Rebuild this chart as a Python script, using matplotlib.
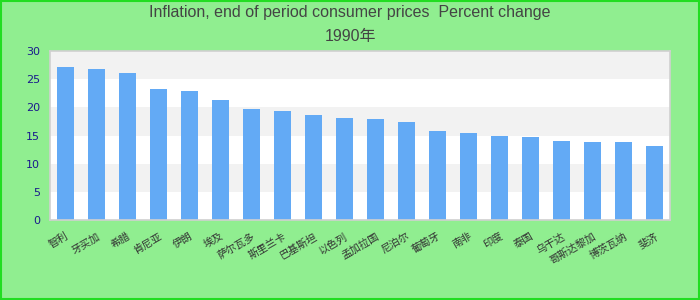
import numpy as np
import matplotlib
matplotlib.use("Agg")
import matplotlib.pyplot as plt
from matplotlib.patches import Rectangle

# Data
countries = ["智利", "牙买加", "希腊", "肯尼亚", "伊朗", "埃及", "萨尔瓦多", "斯里兰卡",
             "巴基斯坦", "以色列", "孟加拉国", "尼泊尔", "葡萄牙", "南非", "印度", "泰国",
             "乌干达", "哥斯达黎加", "博茨瓦纳", "斐济"]
inflation = [27.2, 26.8, 26.1, 23.3, 22.9, 21.3, 19.7, 19.4, 18.6, 18.1,
             17.9, 17.4, 15.8, 15.4, 14.9, 14.7, 14.0, 13.9, 13.9, 13.1]
y_ticks = [0, 5, 10, 15, 20, 25, 30]

title_line1 = "Inflation, end of period consumer prices  Percent change"
title_line2 = "1990年"

bg = "#90EE90"
bar_color = "#63AAF5"

fig = plt.figure(figsize=(7, 3), dpi=100, facecolor=bg)
ax = fig.add_axes([50 / 700, 80 / 300, 620 / 700, 169 / 300])
ax.set_facecolor("white")

# alternating bands
for i in range(len(y_ticks) - 1):
    if i % 2 == 1:
        ax.axhspan(y_ticks[i], y_ticks[i + 1], color="#f2f2f2", zorder=0, lw=0)

x = np.arange(len(countries))
ax.bar(x, inflation, width=0.56, color=bar_color, zorder=2)

ax.set_xlim(-0.5, len(countries) - 0.5)
ax.set_ylim(0, 30)
ax.set_yticks(y_ticks)
ax.set_yticklabels([str(t) for t in y_ticks], color="#1a1a8c",
                   fontsize=8, family="DejaVu Sans")
ax.set_xticks(x)
ax.set_xticklabels(countries, rotation=30, ha="right", rotation_mode="anchor",
                   fontsize=7.5, color="#333333",
                   family=["Noto Sans CJK SC", "DejaVu Sans"])
ax.tick_params(axis="both", length=0)
ax.tick_params(axis="y", pad=7)
ax.tick_params(axis="x", pad=8)

for s in ax.spines.values():
    s.set_color("#d0d0d0")
    s.set_linewidth(1.2)

title_font = ["Liberation Sans Narrow", "Liberation Sans", "Noto Sans CJK SC"]
fig.text(0.5, 1 - 13 / 300, title_line1, ha="center", va="center",
         fontsize=11.5, color="#444444", family=title_font)
fig.text(0.5, 1 - 37 / 300, title_line2, ha="center", va="center",
         fontsize=11.5, color="#444444", family=title_font)

# green border around the whole chart
fig.patches.append(Rectangle((0.001, 0.002), 0.997, 0.995, transform=fig.transFigure,
                             fill=False, edgecolor="#22dd22", linewidth=1.5))

fig.savefig("out.png", dpi=100, facecolor=bg)
